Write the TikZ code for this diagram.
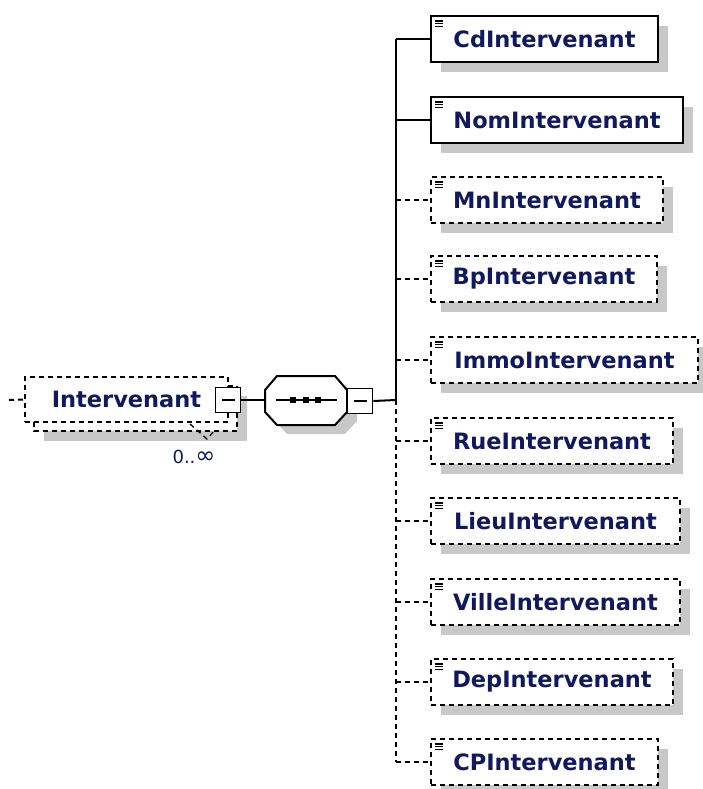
\documentclass[tikz,border=0pt]{standalone}
\usepackage{fontspec}
\newfontfamily\xsdfont{DejaVu Sans}
\usetikzlibrary{shadows}

\definecolor{xsdtext}{RGB}{16,24,96}
\definecolor{xsdshade}{RGB}{200,200,200}

\tikzset{
    reqline/.style={line width=2pt},
    optline/.style={line width=2pt, dash pattern=on 5pt off 4pt},
    elemicon/.style={path picture={
        \foreach \k in {0,1,2}
            \draw[solid, line width=1.2pt] ([shift={(4pt,{(-5-2.8*\k)*1pt})}]path picture bounding box.north west) -- ++(8,0);
    }},
    reqelem/.style={draw, reqline, fill=white, anchor=west, minimum height=46pt, inner sep=0pt,
        text=xsdtext, font=\xsdfont\bfseries\fontsize{22.5}{26}\selectfont,
        drop shadow={shadow xshift=10pt, shadow yshift=-10pt, fill=xsdshade, opacity=1}, elemicon},
    optelem/.style={reqelem, optline},
    parentelem/.style={draw, optline, fill=white, minimum width=203pt, minimum height=45pt, inner sep=0pt,
        text=xsdtext, font=\xsdfont\bfseries\fontsize{22.5}{26}\selectfont},
    toggle/.style={draw, solid, fill=white, line width=1.6pt, minimum size=25pt, inner sep=0pt,
        path picture={\draw[line width=1.6pt] ([xshift=6pt]path picture bounding box.west) -- ([xshift=-6pt]path picture bounding box.east);}},
    multlabel/.style={text=xsdtext, inner sep=0pt, font=\xsdfont\fontsize{18}{20}\selectfont}
}

\begin{document}
\begin{tikzpicture}[x=1pt, y=-1pt]
    \useasboundingbox (0,0) rectangle (702,789);


    \fill[xsdshade] (44,396) rectangle (247,441);
    \draw[optline, fill=white] (34,386) rectangle (237,431);
    \node[parentelem] (interv) at (126.5,399.5) {Intervenant};
    \node[toggle] (intervtog) at (228,400) {};
    \draw[optline, line width=1.3pt] (190,424) -- (207,439) -- (214,431);
    \node[multlabel] (intervmult) at (194,457) {0..{\fontsize{24}{24}\selectfont ∞}};
    \coordinate (intervin) at (9,400);
    \draw[optline] (intervin) -- (interv.west);


    \fill[xsdshade, shift={(10,9)}] (265,390) -- (277,376) -- (335,376) -- (347,390) -- (347,412) -- (335,425) -- (277,425) -- (265,412) -- cycle;
    \draw[reqline, fill=white] (265,390) -- (277,376) -- (335,376) -- (347,390) -- (347,412) -- (335,425) -- (277,425) -- (265,412) -- cycle;
    \coordinate (seqW) at (265,400);
    \draw[reqline] (276,400) -- (337,400);
    \foreach \sx in {293,306,318}
        \fill (\sx-3,397) rectangle (\sx+3,403);
    \node[toggle] (seqtog) at (360,401) {};
    \coordinate (jn) at (396,400);

    \draw[reqline] (intervtog.east) -- (seqW);
    \draw[reqline] (seqtog.east) -- (jn);


    \node[reqelem, minimum width=227pt] (cd) at (430,39) {CdIntervenant};
    \node[reqelem, minimum width=252pt] (nom) at (430,120) {NomIntervenant};
    \node[optelem, minimum width=232pt] (mn) at (430,200) {MnIntervenant};
    \node[optelem, minimum width=226pt] (bp) at (430,279) {BpIntervenant};
    \node[optelem, minimum width=267pt] (immo) at (430,360) {ImmoIntervenant};
    \node[optelem, minimum width=242pt] (rue) at (430,441) {RueIntervenant};
    \node[optelem, minimum width=249pt] (lieu) at (430,521) {LieuIntervenant};
    \node[optelem, minimum width=249pt] (ville) at (430,602) {VilleIntervenant};
    \node[optelem, minimum width=242pt] (dep) at (430,682) {DepIntervenant};
    \node[optelem, minimum width=227pt] (cp) at (430,762) {CPIntervenant};


    \draw[reqline] (cd.west -| jn) -- (jn);
    \draw[optline] (jn) -- (cp.west -| jn);
    \draw[reqline] (cd.west -| jn) -- (cd.west);
    \draw[reqline] (nom.west -| jn) -- (nom.west);
    \draw[optline] (mn.west -| jn) -- (mn.west);
    \draw[optline] (bp.west -| jn) -- (bp.west);
    \draw[optline] (immo.west -| jn) -- (immo.west);
    \draw[optline] (rue.west -| jn) -- (rue.west);
    \draw[optline] (lieu.west -| jn) -- (lieu.west);
    \draw[optline] (ville.west -| jn) -- (ville.west);
    \draw[optline] (dep.west -| jn) -- (dep.west);
    \draw[optline] (cp.west -| jn) -- (cp.west);

\end{tikzpicture}
\end{document}
